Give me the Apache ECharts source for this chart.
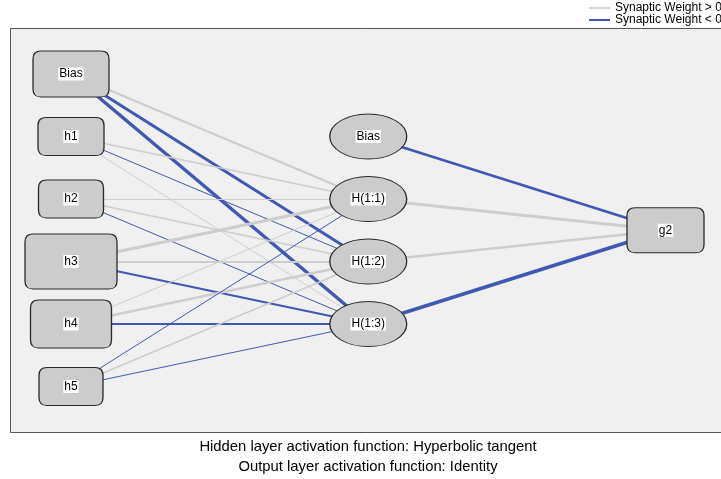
<!DOCTYPE html>
<html>
<head>
<meta charset="utf-8">
<script src="https://cdn.jsdelivr.net/npm/echarts@6/dist/echarts.min.js"></script>
<style>html,body{margin:0;padding:0;background:#fff;}#c{width:721px;height:479px;}</style>
</head>
<body>
<div id="c"></div>
<script>
// ---- data ----
const inputNodes = ['Bias', 'h1', 'h2', 'h3', 'h4', 'h5'];
const hiddenNodes = ['Bias', 'H(1:1)', 'H(1:2)', 'H(1:3)'];
const outputNodes = ['g2'];
// signed synaptic weights (input -> hidden H(1:1), H(1:2), H(1:3))
const weightsInHid = [
  [0.6, -0.9, -1.05],
  [0.45, -0.3, 0.3],
  [0.3, 0.45, -0.3],
  [0.9, 0.6, -0.6],
  [0.3, 0.75, -0.6],
  [-0.3, 0.45, -0.3]
];
// hidden (Bias, H(1:1), H(1:2), H(1:3)) -> g2
const weightsHidOut = [-0.75, 0.9, 0.75, -1.05];
const legendNames = ['Synaptic Weight > 0', 'Synaptic Weight < 0'];
const footnotes = ['Hidden layer activation function: Hyperbolic tangent', 'Output layer activation function: Identity'];

// ---- styles ----
const FONT = '"Liberation Sans", Arial, sans-serif';
const POS = '#cdcdcd', NEG = '#3f58b0';
const inputBoxSizes = [[76, 46], [66, 38], [65, 38], [92, 55], [81, 48], [64, 38]];
const ellipseSize = [77, 45];
const outputSize = [77, 45];
const ELLIPSE = 'path://M0,50 A50,50 0 1,1 100,50 A50,50 0 1,1 0,50 Z';
const widthScale = 3.3;

function roundRectPath(s) {
  const w = s[0], h = s[1], r = 8;
  return 'path://M' + r + ',0 L' + (w - r) + ',0 Q' + w + ',0 ' + w + ',' + r +
    ' L' + w + ',' + (h - r) + ' Q' + w + ',' + h + ' ' + (w - r) + ',' + h +
    ' L' + r + ',' + h + ' Q0,' + h + ' 0,' + (h - r) +
    ' L0,' + r + ' Q0,0 ' + r + ',0 Z';
}

const nodeStyle = { color: '#cccccc', borderColor: '#2a2a2a', borderWidth: 1 };
const labelStyle = { show: true, position: 'inside', color: '#000', fontSize: 12, fontFamily: FONT, backgroundColor: '#ffffff', padding: [1, 1, 0, 1] };

const nodes = [];
inputNodes.forEach((n, i) => nodes.push({ name: 'in_' + i, value: [0, i], symbol: roundRectPath(inputBoxSizes[i]), symbolSize: inputBoxSizes[i], itemStyle: nodeStyle, label: Object.assign({}, labelStyle, { formatter: n }) }));
hiddenNodes.forEach((n, j) => nodes.push({ name: 'hid_' + j, value: [1, j + 1], symbol: ELLIPSE, symbolSize: ellipseSize, itemStyle: nodeStyle, label: Object.assign({}, labelStyle, { formatter: n }) }));
outputNodes.forEach((n, k) => nodes.push({ name: 'out_' + k, value: [2, 2.5], symbol: roundRectPath(outputSize), symbolSize: outputSize, itemStyle: nodeStyle, label: Object.assign({}, labelStyle, { formatter: n }) }));

const links = [];
weightsInHid.forEach((row, i) => row.forEach((w, j) => links.push({
  source: i, target: inputNodes.length + 1 + j,
  lineStyle: { color: w > 0 ? POS : NEG, width: Math.abs(w) * widthScale, opacity: 1 }
})));
weightsHidOut.forEach((w, j) => links.push({
  source: inputNodes.length + j, target: inputNodes.length + hiddenNodes.length,
  lineStyle: { color: w > 0 ? POS : NEG, width: Math.abs(w) * widthScale, opacity: 1 }
}));

const chart = echarts.init(document.getElementById('c'), null, { renderer: 'canvas' });
chart.setOption({
  animation: false,
  backgroundColor: '#ffffff',
  textStyle: { fontFamily: FONT },
  grid: { left: 71, top: 74, width: 594.5, height: 312.5 },
  xAxis: { type: 'value', min: 0, max: 2, show: false },
  yAxis: { type: 'value', min: 0, max: 5, inverse: true, show: false },
  legend: {
    orient: 'vertical', left: 584, top: 2, padding: [0, 5, 0, 5], itemGap: 0, itemWidth: 21, itemHeight: 2,
    icon: 'rect',
    textStyle: { fontSize: 12, lineHeight: 11, height: 11, color: '#000', fontFamily: FONT },
    data: legendNames
  },
  graphic: [
    { type: 'rect', z: 0, shape: { x: 10.5, y: 28.5, width: 730, height: 404 }, style: { fill: '#f0f0f0', stroke: '#555', lineWidth: 1 } },
    { type: 'text', z: 0, x: 368, y: 447, style: { text: footnotes[0], fill: '#000', font: '14.8px ' + FONT, textAlign: 'center', textVerticalAlign: 'middle' } },
    { type: 'text', z: 0, x: 368, y: 467, style: { text: footnotes[1], fill: '#000', font: '14.8px ' + FONT, textAlign: 'center', textVerticalAlign: 'middle' } }
  ],
  series: [
    {
      type: 'graph', coordinateSystem: 'cartesian2d', layout: 'none', z: 3,
      data: nodes, links: links, silent: true,
      lineStyle: { curveness: 0, opacity: 1 },
      emphasis: { disabled: true }
    },
    { type: 'line', name: legendNames[0], data: [], symbol: 'none', lineStyle: { color: POS, width: 1 }, itemStyle: { color: '#d6d6d6' } },
    { type: 'line', name: legendNames[1], data: [], symbol: 'none', lineStyle: { color: NEG, width: 1.5 }, itemStyle: { color: NEG } }
  ]
});
</script>
</body>
</html>
